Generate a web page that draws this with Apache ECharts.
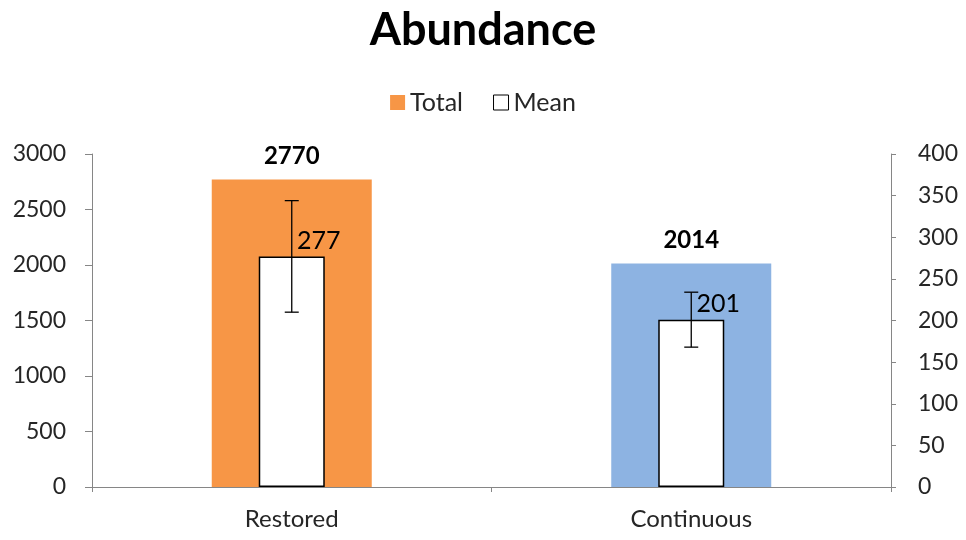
<!DOCTYPE html>
<html>
<head>
<meta charset="utf-8">
<script src="https://cdn.jsdelivr.net/npm/echarts@6/dist/echarts.min.js"></script>
<style>
  html, body { margin: 0; padding: 0; background: #fff; }
  #chart { width: 966px; height: 540px; }
</style>
</head>
<body>
<div id="chart"></div>
<script>
// data
const categories = ['Restored', 'Continuous']
const totalValues = [2770, 2014]
const meanValues = [277, 201]
const meanErrors = [67, 33]
const totalColors = ['#F79646', '#8DB3E2']

const font = 'Lato, "Open Sans", sans-serif'
const axisColor = '#868686'
const textColor = '#262626'

let chart = echarts.init(document.getElementById('chart'))

let errorData = meanValues.map((v, i) => [i, v - meanErrors[i], v + meanErrors[i]])

let option = {
  animation: false,
  title: {
    text: 'Abundance',
    left: 'center',
    top: 3,
    textStyle: { fontFamily: font, fontSize: 45, fontWeight: 'bold', color: '#000' },
  },
  legend: {
    top: 85,
    left: 'center',
    itemWidth: 15,
    itemHeight: 15,
    itemGap: 30,
    textStyle: { fontFamily: font, fontSize: 25, color: textColor },
    data: [
      { name: 'Total', icon: 'rect', itemStyle: { color: '#F79646', borderWidth: 0 } },
      { name: 'Mean', icon: 'rect', itemStyle: { color: '#fff', borderColor: '#000', borderWidth: 1 } },
    ],
  },
  grid: { left: 92, right: 75, top: 154, bottom: 53 },
  xAxis: [
    {
      type: 'category',
      data: categories,
      axisLine: { lineStyle: { color: axisColor } },
      axisTick: { show: true, length: 5, inside: false, lineStyle: { color: axisColor } },
      axisLabel: { fontFamily: font, fontSize: 24, color: textColor, margin: 20 },
    },
    { type: 'category', data: categories, show: false },
  ],
  yAxis: [
    {
      type: 'value',
      min: 0,
      max: 3000,
      interval: 500,
      splitLine: { show: false },
      axisLine: { show: true, lineStyle: { color: axisColor } },
      axisTick: { show: true, length: 7, lineStyle: { color: axisColor } },
      axisLabel: { fontFamily: font, fontSize: 23, color: textColor, margin: 26, formatter: (v) => String(v) },
    },
    {
      type: 'value',
      min: 0,
      max: 400,
      interval: 50,
      splitLine: { show: false },
      axisLine: { show: true, lineStyle: { color: axisColor } },
      axisTick: { show: true, length: 5, lineStyle: { color: axisColor } },
      axisLabel: { fontFamily: font, fontSize: 23, color: textColor, margin: 27, formatter: (v) => String(v) },
    },
  ],
  series: [
    {
      name: 'Total',
      type: 'bar',
      xAxisIndex: 0,
      yAxisIndex: 0,
      barWidth: 160,
      data: totalValues.map((v, i) => ({ value: v, itemStyle: { color: totalColors[i] } })),
      label: {
        show: true,
        position: 'top',
        distance: 11,
        fontFamily: font,
        fontSize: 24,
        fontWeight: 'bold',
        color: '#000',
      },
      z: 1,
    },
    {
      name: 'Mean',
      type: 'bar',
      xAxisIndex: 1,
      yAxisIndex: 1,
      barWidth: 66,
      itemStyle: { color: '#fff', borderColor: '#000', borderWidth: 1.5 },
      data: meanValues,
      label: {
        show: true,
        position: 'top',
        offset: [27, 2],
        fontFamily: font,
        fontSize: 25,
        color: '#000',
      },
      z: 2,
    },
    {
      name: 'Mean error',
      type: 'custom',
      xAxisIndex: 1,
      yAxisIndex: 1,
      data: errorData,
      z: 3,
      renderItem: (params, api) => {
        let x = api.coord([api.value(0), api.value(1)])[0]
        let lo = api.coord([api.value(0), api.value(1)])[1]
        let hi = api.coord([api.value(0), api.value(2)])[1]
        let half = 7
        let style = { stroke: '#000', lineWidth: 1.3 }
        return {
          type: 'group',
          children: [
            { type: 'line', shape: { x1: x, y1: lo, x2: x, y2: hi }, style: style },
            { type: 'line', shape: { x1: x - half, y1: hi, x2: x + half, y2: hi }, style: style },
            { type: 'line', shape: { x1: x - half, y1: lo, x2: x + half, y2: lo }, style: style },
          ],
        }
      },
    },
  ],
}
chart.setOption(option)
</script>
</body>
</html>
